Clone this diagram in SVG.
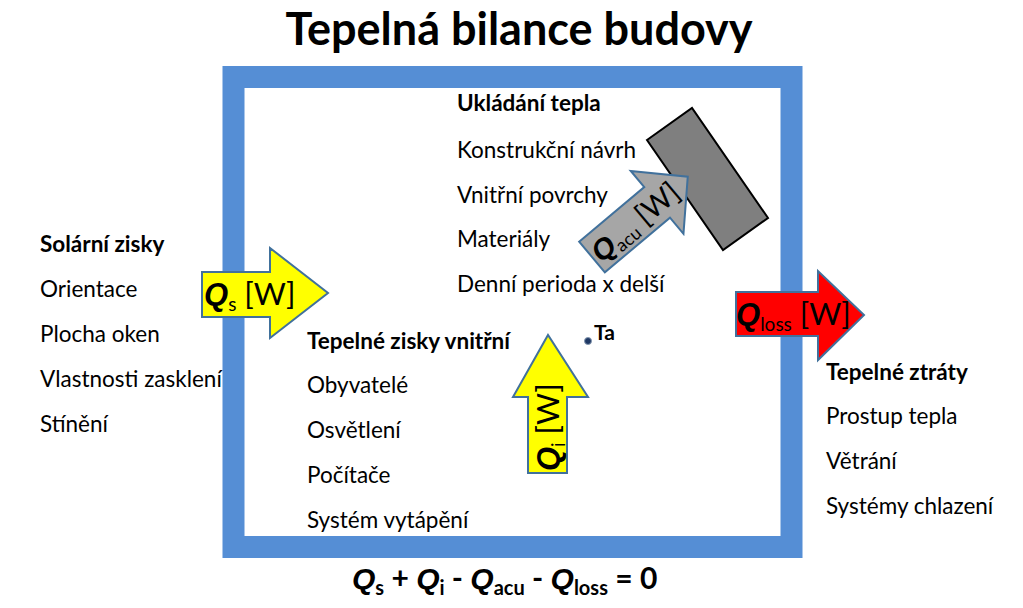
<svg xmlns="http://www.w3.org/2000/svg" width="1023" height="608" viewBox="0 0 1023 608">
<style>
.t{font-family:Lato,"Liberation Sans",sans-serif;font-size:22.5px;fill:#000}
.b{font-weight:bold}
.arrow{stroke:#41719c;stroke-width:2;stroke-linejoin:miter}
.lbl{font-family:Lato,"Liberation Sans",sans-serif;fill:#000}
.q{font-family:"Liberation Sans",sans-serif;font-weight:bold;font-style:italic}
</style>
<rect width="1023" height="608" fill="#fff"/>
<text x="519" y="45" text-anchor="middle" font-family="Lato,'Liberation Sans',sans-serif" font-weight="bold" font-size="45">Tepelná bilance budovy</text>
<g id="frame">
<rect x="233.5" y="77" width="558" height="470" fill="#fff" stroke="#558ed5" stroke-width="22"/>
</g>
<g id="storage-block">
<polygon points="647,140 692,108 768,218 723,250" fill="#7f7f7f" stroke="#000" stroke-width="2"/>
</g>
<g id="storage-text" class="t">
<text x="457" y="111" class="b">Ukládání tepla</text>
<text x="457" y="158">Konstrukční návrh</text>
<text x="457" y="203">Vnitřní povrchy</text>
<text x="457" y="247">Materiály</text>
<text x="457" y="292">Denní perioda x delší</text>
</g>
<g id="solar-text" class="t">
<text x="40" y="252" class="b">Solární zisky</text>
<text x="40" y="297">Orientace</text>
<text x="40" y="342">Plocha oken</text>
<text x="40" y="387">Vlastnosti zasklení</text>
<text x="40" y="432">Stínění</text>
</g>
<g id="internal-text" class="t">
<text x="307" y="349" class="b">Tepelné zisky vnitřní</text>
<text x="307" y="393">Obyvatelé</text>
<text x="307" y="438">Osvětlení</text>
<text x="307" y="483">Počítače</text>
<text x="307" y="528">Systém vytápění</text>
</g>
<g id="loss-text" class="t">
<text x="826" y="380" class="b">Tepelné ztráty</text>
<text x="826" y="424">Prostup tepla</text>
<text x="826" y="469">Větrání</text>
<text x="826" y="514">Systémy chlazení</text>
</g>
<g id="connectors">
<g id="arrow-qs">
<polygon class="arrow" points="202,272 270,272 270,248 328,293 270,338 270,317 202,317" fill="#ffff00"/>
<text class="lbl" x="204" y="305" font-size="31"><tspan class="q">Q</tspan><tspan font-size="19" dy="6">s</tspan><tspan dy="-6"> [W]</tspan></text>
</g>
<g id="arrow-qloss">
<polygon class="arrow" points="736,292 818,292 818,271 864,315 818,360 818,336 736,336" fill="#ff0000"/>
<text class="lbl" x="736" y="325" font-size="31"><tspan class="q">Q</tspan><tspan font-size="19" dy="6">loss</tspan><tspan dy="-6"> [W]</tspan></text>
</g>
<g id="arrow-qi">
<polygon class="arrow" points="528,473 528,397 513,397 548,335 588,397 567,397 567,473" fill="#ffff00"/>
<text class="lbl" transform="translate(559,471) rotate(-90)" font-size="31"><tspan class="q">Q</tspan><tspan font-size="19" dy="6">i</tspan><tspan dy="-6"> [W]</tspan></text>
</g>
<g id="arrow-qacu" transform="translate(592,257) rotate(-40)">
<polygon class="arrow" points="0,-20 85,-20 85,-41 125,0 85,41 85,20 0,20" fill="#a6a6a6"/>
<text class="lbl" x="3" y="11" font-size="29"><tspan class="q">Q</tspan><tspan font-size="18" dy="5">acu</tspan><tspan dy="-5"> [W]</tspan></text>
</g>
</g>
<g id="ta">
<circle cx="588" cy="341" r="3.5" fill="#1f3864" stroke="#8497b0" stroke-width="1"/>
<text x="594" y="340" font-family="Lato,'Liberation Sans',sans-serif" font-weight="bold" font-size="21">Ta</text>
</g>
<g id="equation">
<text x="352" y="589" font-family="Lato,'Liberation Sans',sans-serif" font-weight="bold" font-size="30"><tspan class="q">Q</tspan><tspan font-size="20" dy="6">s</tspan><tspan dy="-6"> + </tspan><tspan class="q">Q</tspan><tspan font-size="20" dy="6">i</tspan><tspan dy="-6"> - </tspan><tspan class="q">Q</tspan><tspan font-size="20" dy="6">acu</tspan><tspan dy="-6"> - </tspan><tspan class="q">Q</tspan><tspan font-size="20" dy="6">loss</tspan><tspan dy="-6"> = 0</tspan></text>
</g>
</svg>
